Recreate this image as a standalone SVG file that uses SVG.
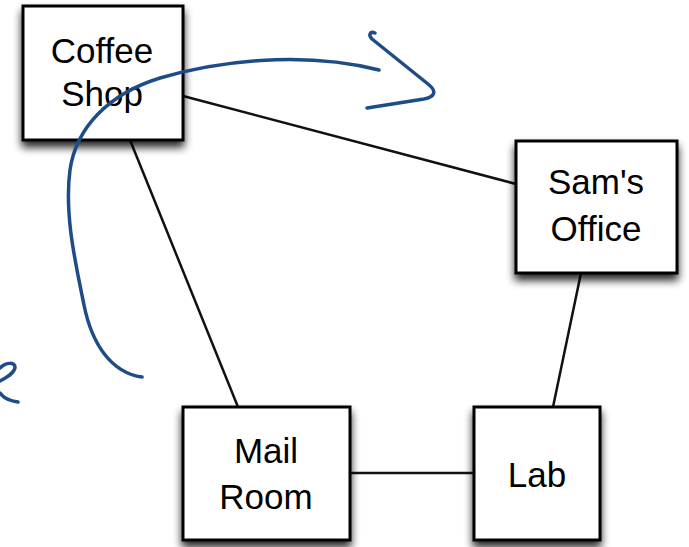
<svg xmlns="http://www.w3.org/2000/svg" width="689" height="547" viewBox="0 0 689 547">
  <defs>
    <filter id="shadow" x="-20%" y="-20%" width="140%" height="150%">
      <feGaussianBlur in="SourceAlpha" stdDeviation="4"/>
      <feOffset dx="0" dy="6" result="blur"/>
      <feComponentTransfer><feFuncA type="linear" slope="0.85"/></feComponentTransfer>
      <feMerge><feMergeNode/><feMergeNode in="SourceGraphic"/></feMerge>
    </filter>
  </defs>
  <style>
    .box { fill: #ffffff; stroke: #000000; stroke-width: 3; filter: url(#shadow); }
    .label { font-family: "Liberation Sans", Arial, sans-serif; font-size: 35px; fill: #000000; text-anchor: middle; }
    .edge { stroke: #111111; stroke-width: 2.5; fill: none; }
    .ink { stroke: #1e4c86; stroke-width: 3.5; fill: none; stroke-linecap: round; stroke-linejoin: round; }
  </style>
  <rect width="689" height="547" fill="#ffffff"/>

  <g id="connectors">
    <line class="edge" x1="183" y1="96" x2="516" y2="184"/>
    <line class="edge" x1="130" y1="140" x2="238" y2="407"/>
    <line class="edge" x1="581" y1="273" x2="553" y2="407"/>
    <line class="edge" x1="350" y1="473" x2="474" y2="473"/>
  </g>

  <g id="coffee-shop">
    <rect class="box" x="23" y="6" width="160" height="134"/>
    <text class="label" x="102" y="63">Coffee</text>
    <text class="label" x="102" y="106">Shop</text>
  </g>

  <g id="sams-office">
    <rect class="box" x="516" y="141" width="161" height="132"/>
    <text class="label" x="596" y="194">Sam's</text>
    <text class="label" x="596" y="241">Office</text>
  </g>

  <g id="mail-room">
    <rect class="box" x="183" y="407" width="167" height="133"/>
    <text class="label" x="266" y="463">Mail</text>
    <text class="label" x="266" y="509">Room</text>
  </g>

  <g id="lab">
    <rect class="box" x="474" y="407" width="126" height="133"/>
    <text class="label" x="537" y="487">Lab</text>
  </g>

  <!-- hand-drawn pen annotation -->
  <g id="annotation">
    <path class="ink" d="M142,377 C112,373 92,345 84,305 C76,265 64,215 70,170 C76,128 108,94 160,78 C215,62 300,50 379,70"/>
    <path class="ink" d="M375,33 C370,31 368,35 372,39 L428,84 C438,92 434,97 424,99 L367,108"/>
    <path class="ink" d="M0,381 C6,378 15,372 15,367 C15,362 6,362 0,368"/>
    <path class="ink" d="M0,393 C4,399 10,401 18,402"/>
  </g>
</svg>
